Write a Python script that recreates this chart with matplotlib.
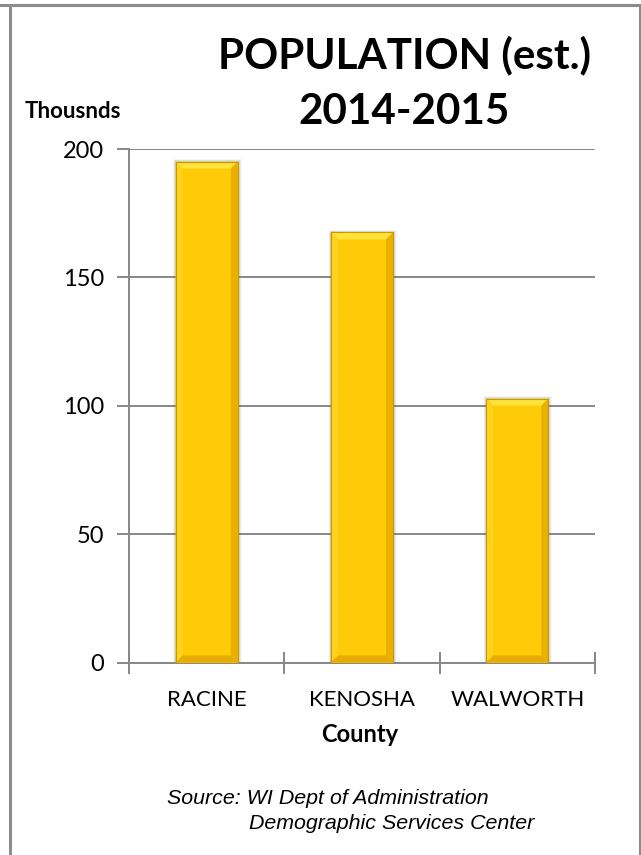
import matplotlib
matplotlib.use("Agg")
import matplotlib.pyplot as plt
import matplotlib.patches as patches
from matplotlib.ticker import FixedLocator

# Population estimates, thousands
counties = ["RACINE", "KENOSHA", "WALWORTH"]
population = [195.1, 167.5, 102.8]
y_ticks = [0, 50, 100, 150, 200]

title_lines = ["POPULATION (est.)", "2014-2015"]
source_lines = ["Source: WI Dept of Administration",
                "Demographic Services Center"]

W, H = 641, 855
fig = plt.figure(figsize=(W / 100, H / 100), dpi=100)
fig.patch.set_facecolor("white")

# outer frame
frame = patches.Rectangle((9.5 / W, -0.01), (639.5 - 9.5) / W, 1.01 - 5.5 / H,
                          transform=fig.transFigure, fill=False,
                          edgecolor="#8c8c8c", linewidth=2.2, zorder=0)
fig.add_artist(frame)
fig.add_artist(plt.Line2D([0, 1], [1 - 5.5 / H] * 2, transform=fig.transFigure,
                          color="#8c8c8c", linewidth=2.2))

ax = fig.add_axes([129 / W, 1 - 662.5 / H, (595 - 129) / W, (662.5 - 149) / H])
ax.set_xlim(-0.5, len(counties) - 0.5)
ax.set_ylim(0, 200)

grid_col = "#878787"
for spine in ["top", "right"]:
    ax.spines[spine].set_visible(False)
for spine in ["left", "bottom"]:
    ax.spines[spine].set_color(grid_col)
    ax.spines[spine].set_linewidth(1.4)

ax.yaxis.set_major_locator(FixedLocator(y_ticks))
ax.grid(axis="y", color=grid_col, linewidth=1.4, zorder=0)
ax.set_axisbelow(True)
ax.tick_params(axis="y", direction="out", length=9, width=1.4, color=grid_col,
               labelsize=17, pad=9)

ax.set_xticks(range(len(counties)))
ax.set_xticklabels(counties)
ax.xaxis.set_minor_locator(FixedLocator([i - 0.5 for i in range(len(counties) + 1)]))
ax.tick_params(axis="x", which="major", length=0, labelsize=16, pad=20)
ax.tick_params(axis="x", which="minor", direction="inout", length=16, width=1.4,
               color=grid_col)
for lab in ax.get_xticklabels() + ax.get_yticklabels():
    lab.set_fontfamily("Lato")

# bars with a bevelled face
bar_w = 0.4
bars = ax.bar(range(len(counties)), population, width=bar_w, color="#FFCA08",
              edgecolor="#C99A00", linewidth=0.8, zorder=3)

px_x = (len(counties)) / ((595 - 129))          # data units per pixel, x
px_y = 200 / (662.5 - 149)                       # data units per pixel, y
bev_x, bev_y = 7 * px_x, 7 * px_y
for b in bars:
    x0, w, h = b.get_x(), b.get_width(), b.get_height()
    x1 = x0 + w
    # soft shadow
    for k, a in [(4, 0.05), (3, 0.07), (2, 0.09), (1, 0.12)]:
        ax.add_patch(patches.Rectangle((x0 - k * px_x * 0.6, 0), w + k * px_x * 1.6,
                                       h + k * px_y * 0.6, facecolor="#606060",
                                       edgecolor="none", alpha=a, zorder=2))
    faces = [
        ([(x0, h), (x1, h), (x1 - bev_x, h - bev_y), (x0 + bev_x, h - bev_y)], "#FFE23A"),
        ([(x0, 0), (x0, h), (x0 + bev_x, h - bev_y), (x0 + bev_x, bev_y)], "#FFD21E"),
        ([(x1, 0), (x1, h), (x1 - bev_x, h - bev_y), (x1 - bev_x, bev_y)], "#E8B000"),
        ([(x0, 0), (x1, 0), (x1 - bev_x, bev_y), (x0 + bev_x, bev_y)], "#E6AC00"),
    ]
    for pts, col in faces:
        ax.add_patch(patches.Polygon(pts, closed=True, facecolor=col,
                                     edgecolor="none", zorder=4))
    ax.add_patch(patches.Rectangle((x0, 0), w, h, fill=False, edgecolor="#C99A00",
                                   linewidth=0.8, zorder=5))

# titles and labels
fig.text(404 / W, 1 - 55 / H, title_lines[0], ha="center", va="center",
         fontsize=30.3, fontweight="bold", family="Lato")
fig.text(404 / W, 1 - 112 / H, title_lines[1], ha="center", va="center",
         fontsize=30.3, fontweight="bold", family="Lato")
fig.text(25 / W, 1 - 111 / H, "Thousnds", ha="left", va="center", fontsize=16,
         fontweight="bold", family="Lato")
fig.text(360 / W, 1 - 734 / H, "County", ha="center", va="center", fontsize=17,
         fontweight="bold", family="Lato")
fig.text(167 / W, 1 - 798 / H, source_lines[0], ha="left", va="center",
         fontsize=15.4, style="italic", family="Liberation Sans")
fig.text(249 / W, 1 - 823 / H, source_lines[1], ha="left", va="center",
         fontsize=15.4, style="italic", family="Liberation Sans")

fig.savefig("out.png", dpi=100, facecolor="white")
